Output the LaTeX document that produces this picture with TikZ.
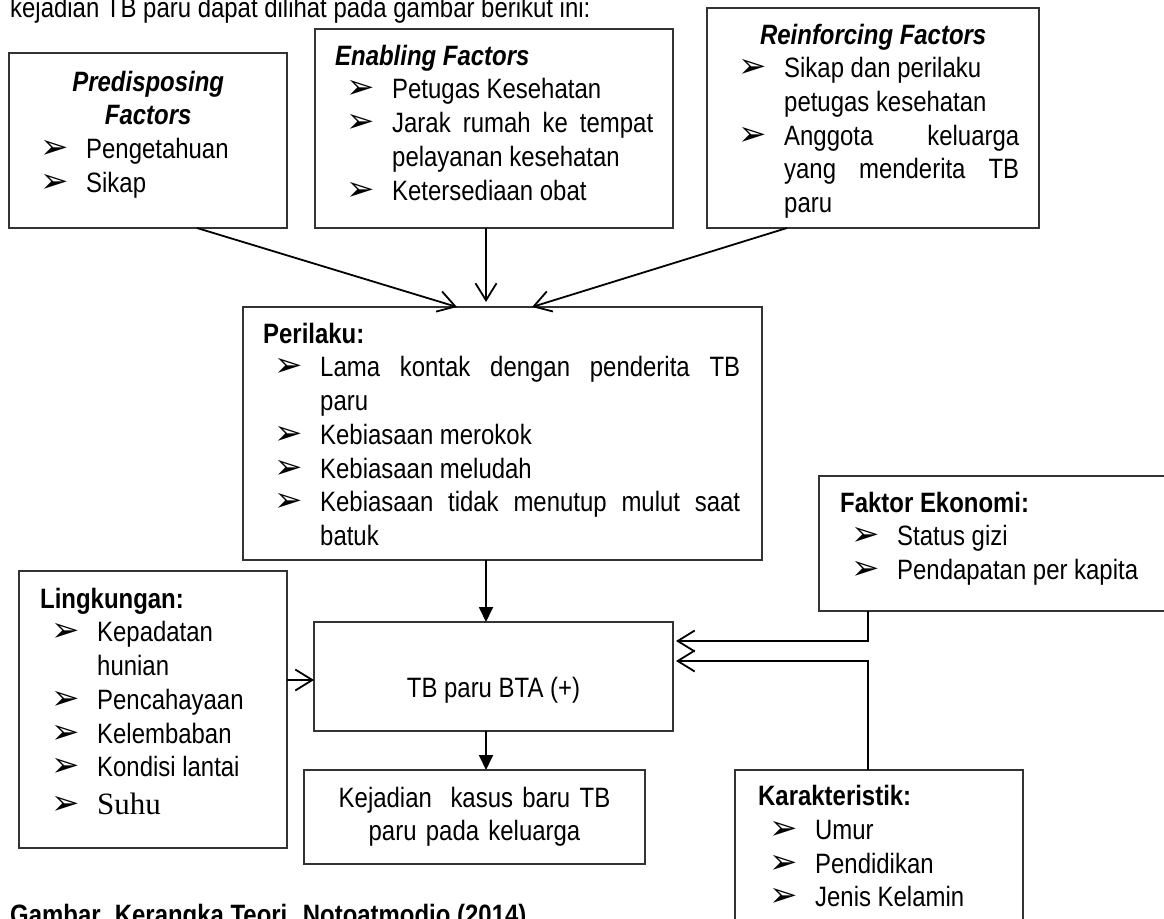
\documentclass[tikz,border=0pt]{standalone}
\usepackage{fontspec}
\setmainfont{Liberation Sans}[FakeStretch=0.855]
\newfontfamily\bulfont{DejaVu Sans}
\newfontfamily\suhufont{Liberation Serif}
\usepackage{tikz}
\usetikzlibrary{arrows.meta, positioning, calc}

\newcommand{\bul}{\smash{\bulfont\fontsize{34}{34}\selectfont ➢}}
\newcommand{\itm}[1]{\par\noindent\hangindent=57pt\hangafter=1\hspace*{11pt}\makebox[46pt][l]{\bul}#1}
\newcommand{\hd}[1]{\noindent\rule{0pt}{21pt}\textbf{#1}}

\begin{document}
\begin{tikzpicture}[x=1pt, y=-1pt,
  box/.style={draw=black!80, line width=1.3pt, inner sep=0pt, outer sep=0pt, anchor=north west},
  txt/.style={anchor=north west, inner sep=0pt, align=justify, font=\fontsize{28}{33.7}\selectfont},
  openarr/.style={-{Straight Barb[length=17pt, width=21pt]}, line width=1.8pt},
  filledarr/.style={-{Triangle[length=15pt, width=14pt]}, line width=1.8pt}]

  \useasboundingbox (0,0) rectangle (1164,918);
  \clip (0,0) rectangle (1164,918);
  \fill[white] (0,0) rectangle (1164,918);

  \node[anchor=base west, inner sep=0pt, font=\fontsize{28}{33.7}\selectfont] (intro) at (10,17) {kejadian TB paru dapat dilihat pada gambar berikut ini:};

  % Top factors
  \node[box, minimum width=278pt, minimum height=175pt] (pre) at (9,53) {};
  \node[txt, text width=238pt] (preT) at (29,70) {{\centering\rule{0pt}{21pt}\textbf{\textit{Predisposing}}\\\textbf{\textit{Factors}}\par}
    \itm{Pengetahuan}
    \itm{Sikap}\par};

  \node[box, minimum width=358pt, minimum height=199pt] (ena) at (315,29) {};
  \node[txt, text width=318pt] (enaT) at (335,44) {\hd{\textit{Enabling Factors}}
    \itm{Petugas Kesehatan}
    \itm{Jarak rumah ke tempat\linebreak pelayanan kesehatan}
    \itm{Ketersediaan obat}\par};

  \node[box, minimum width=332pt, minimum height=220pt] (rei) at (707,8) {};
  \node[txt, text width=292pt] (reiT) at (727,23) {{\centering\rule{0pt}{21pt}\textbf{\textit{Reinforcing Factors}}\par}
    \itm{Sikap dan perilaku\newline petugas kesehatan}
    \itm{Anggota keluarga\linebreak yang menderita TB\linebreak paru}\par};

  % Perilaku
  \node[box, minimum width=519pt, minimum height=253pt] (per) at (243,307) {};
  \node[txt, text width=477pt] (perT) at (263,322) {\hd{Perilaku:}
    \itm{Lama kontak dengan penderita TB\linebreak paru}
    \itm{Kebiasaan merokok}
    \itm{Kebiasaan meludah}
    \itm{Kebiasaan tidak menutup mulut saat\linebreak batuk}\par};

  % Lingkungan
  \node[box, minimum width=268pt, minimum height=277pt] (lin) at (19,571) {};
  \node[txt, text width=220pt] (linT) at (40,587) {\hd{Lingkungan:}
    \itm{Kepadatan\newline hunian}
    \itm{Pencahayaan}
    \itm{Kelembaban}
    \itm{Kondisi lantai}
    \par\vspace{4pt}
    \itm{{\suhufont\fontsize{31}{33.7}\selectfont Suhu}}\par};

  % TB dan kejadian
  \node[box, minimum width=359pt, minimum height=109pt] (tb) at (314,622) {};
  \node[anchor=base, inner sep=0pt, font=\fontsize{28}{33.7}\selectfont] (tbT) at (493.5,697) {TB paru BTA (+)};

  \node[box, minimum width=341pt, minimum height=94pt] (kej) at (304,770) {};
  \node[anchor=north, inner sep=0pt, align=center, text width=330pt, font=\fontsize{28}{33.7}\selectfont] (kejT) at (474.5,786) {\rule{0pt}{21pt}Kejadian\ \ kasus baru TB\\paru pada keluarga};

  % Ekonomi dan karakteristik
  \node[box, minimum width=347pt, minimum height=135pt] (fak) at (819,476) {};
  \node[txt, text width=300pt] (fakT) at (840,491) {\hd{Faktor Ekonomi:}
    \itm{Status gizi}
    \itm{Pendapatan per kapita}\par};

  \node[box, minimum width=288pt, minimum height=165pt] (kar) at (735,770) {};
  \node[txt, text width=250pt] (karT) at (758,784.5) {\hd{Karakteristik:}
    \itm{Umur}
    \itm{Pendidikan}
    \itm{Jenis Kelamin}\par};

  \node[anchor=base west, inner sep=0pt, font=\fontsize{28}{33.7}\selectfont\bfseries] (cap) at (10,924) {Gambar. Kerangka Teori. Notoatmodjo (2014)};

  % Arrows
  \coordinate (spine) at (486,0);
  \coordinate (ekx) at (868,0);
  \draw[openarr] ([xshift=49pt]pre.south) -- ([xshift=-45.5pt]per.north);
  \draw[openarr] (ena.south -| spine) -- ([yshift=5pt]per.north -| spine);
  \draw[openarr] ([xshift=-86pt]rei.south) -- ([xshift=29.5pt]per.north);
  \draw[filledarr] (per.south -| spine) -- (tb.north -| spine);
  \draw[filledarr] (tb.south -| spine) -- (kej.north -| spine);
  \draw[openarr] ([yshift=-3.5pt]tb.west -| lin.east) -- ([yshift=-3.5pt]tb.west);
  \draw[openarr] (fak.south -| ekx) |- ([xshift=3pt, yshift=35.5pt]tb.east);
  \draw[openarr] (kar.north -| ekx) |- ([xshift=3pt, yshift=15.5pt]tb.east);

\end{tikzpicture}
\end{document}
